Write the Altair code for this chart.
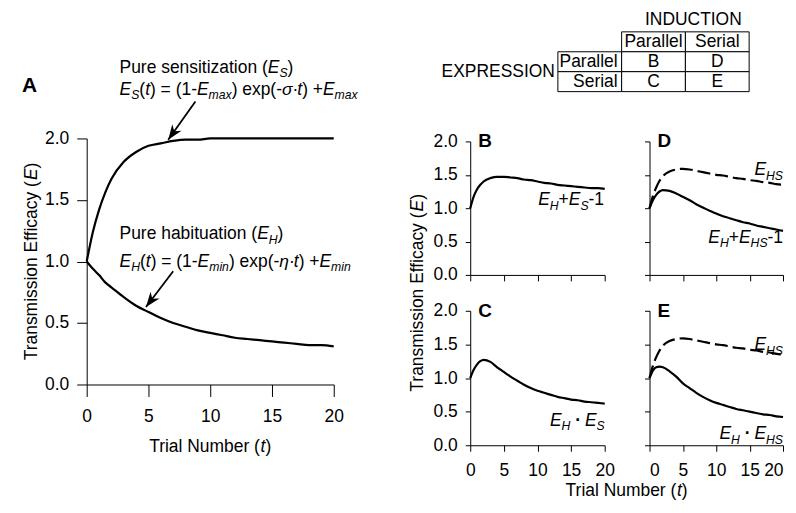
import math
import altair as alt
import pandas as pd

FONT = "Liberation Sans"
FS = 17.5
SUB = 0.7
SUB_DY = 4.5
LW = 2.2

# ---------------- data ----------------
t = [0, 0.5, 1, 1.5, 2, 3, 4, 5, 6, 7, 8, 9, 10, 11, 12, 13, 14, 15, 16, 17, 18, 19, 20]
E_S = [1.00, 1.24, 1.42, 1.56, 1.67, 1.81, 1.89, 1.94, 1.96, 1.98, 1.99, 1.99,
       2.00, 2.00, 2.00, 2.00, 2.00, 2.00, 2.00, 2.00, 2.00, 2.00, 2.00]
E_H = [1.00, 0.94, 0.89, 0.83, 0.79, 0.71, 0.64, 0.59, 0.54, 0.50, 0.47, 0.44,
       0.42, 0.40, 0.38, 0.37, 0.36, 0.35, 0.34, 0.33, 0.32, 0.32, 0.31]
B_sum = [1.00, 1.17, 1.28, 1.35, 1.40, 1.45, 1.47, 1.47, 1.46, 1.45, 1.43, 1.42,
         1.40, 1.38, 1.37, 1.35, 1.34, 1.33, 1.32, 1.31, 1.30, 1.30, 1.29]
C_prod = [1.00, 1.12, 1.20, 1.25, 1.27, 1.24, 1.16, 1.09, 1.02, 0.96, 0.90, 0.85,
          0.81, 0.78, 0.75, 0.72, 0.70, 0.68, 0.67, 0.65, 0.64, 0.63, 0.62]
E_HS = [1.00, 1.18, 1.31, 1.41, 1.48, 1.55, 1.58, 1.59, 1.58, 1.56, 1.54, 1.52,
        1.50, 1.49, 1.47, 1.45, 1.44, 1.42, 1.41, 1.39, 1.38, 1.36, 1.35]
D_sum = [1.00, 1.12, 1.20, 1.25, 1.27, 1.26, 1.22, 1.17, 1.12, 1.06, 1.01, 0.96,
         0.92, 0.88, 0.85, 0.82, 0.79, 0.77, 0.74, 0.72, 0.70, 0.68, 0.66]
E_prod = [1.00, 1.11, 1.16, 1.17, 1.16, 1.10, 1.02, 0.92, 0.85, 0.78, 0.72, 0.67,
          0.63, 0.60, 0.57, 0.54, 0.52, 0.50, 0.48, 0.46, 0.45, 0.43, 0.42]

x_ticks = [0, 5, 10, 15, 20]
y_ticks = [0.0, 0.5, 1.0, 1.5, 2.0]

table_rows = ["head", "Parallel", "Serial"]
table_cols = ["rowhead", "Parallel", "Serial"]
cell_row = ["head", "head", "Parallel", "Parallel", "Parallel", "Serial", "Serial", "Serial"]
cell_col = ["Parallel", "Serial", "rowhead", "Parallel", "Serial", "rowhead", "Parallel", "Serial"]
cell_txt = ["Parallel", "Serial", "Parallel", "B", "D", "Serial", "C", "E"]

# ---------------- helpers ----------------
W = {' ': 278, '(': 333, ')': 333, '+': 584, '-': 333, '.': 278, '=': 584,
     '·': 278, 'σ': 600, 'η': 556, 'A': 667, 'B': 667, 'C': 722, 'D': 722, 'E': 667,
     'H': 722, 'I': 278, 'N': 722, 'O': 778, 'P': 667, 'R': 722, 'S': 667, 'T': 611,
     'U': 722, 'X': 667, 'a': 556, 'b': 556, 'c': 500, 'e': 556, 'f': 278, 'h': 556,
     'i': 222, 'l': 222, 'm': 833, 'n': 556, 'o': 556, 'p': 556, 'r': 333, 's': 500,
     't': 278, 'u': 556, 'x': 500, 'y': 500, 'z': 500}


def seg_w(txt, style, size):
    fs = size * SUB if style == "s" else size
    return sum(W.get(c, 556) for c in txt) / 1000 * fs


def rich(segs, x, y, X=None, Y=None, align="left", size=FS, angle=0, weight="normal"):
    widths = [seg_w(s, st, size) for s, st in segs]
    off = {"left": 0.0, "center": -sum(widths) / 2, "right": -sum(widths)}[align]
    layers = []
    for (s, st), w in zip(segs, widths):
        fs = size * SUB if st == "s" else size
        body = s.lstrip(" ")
        lead = seg_w(s[:len(s) - len(body)], st, size)   # SVG drops leading spaces
        mk = alt.Chart(pd.DataFrame({"t": [x], "v": [y]})).mark_text(
            text=body.rstrip(" "), align="left", baseline="alphabetic", dx=round(off + lead, 2),
            dy=SUB_DY if st == "s" else 0, font=FONT, fontSize=fs,
            fontStyle="italic" if st in ("i", "s") else "normal",
            fontWeight="bold" if st == "b" else weight, angle=angle, color="black")
        if X is None:
            mk = mk.encode(x=alt.value(x), y=alt.value(y))
        else:
            mk = mk.encode(x=X, y=Y)
        layers.append(mk)
        off += w
    return layers


def ax(kind, labels, tick, pad, offset=0, flush=False):
    kw = dict(title=None, grid=False, labels=labels, tickSize=tick, labelPadding=pad,
              labelFlush=flush, labelOverlap=False, domainColor="black", tickColor="black",
              labelColor="black", labelFont=FONT, labelFontSize=FS, domainWidth=1, tickWidth=1)
    if offset:
        kw["offset"] = offset
    if kind == "x":
        return alt.Axis(values=x_ticks, **kw)
    return alt.Axis(values=y_ticks, format=".1f", **kw)


def line_df(*series):
    rows = []
    for name, vals in series:
        for ti, vi in zip(t, vals):
            rows.append({"t": ti, "v": vi, "s": name})
    return pd.DataFrame(rows)


def letter(ch, x, y, size=19):
    return rich([(ch, "n")], x, y, size=size, weight="bold")


# ---------------- panel A ----------------
XA = alt.X("t:Q", scale=alt.Scale(domain=[0, 20], range=[0, 248]), axis=ax("x", True, 12, 11, offset=110))
YA = alt.Y("v:Q", scale=alt.Scale(domain=[0, 2], range=[244, -3]), axis=ax("y", True, 10, 8))
PX_T, PX_V = 12.4, 123.5

linesA = alt.Chart(line_df(("S", E_S), ("H", E_H))).mark_line(
    color="black", strokeWidth=LW, interpolate="monotone").encode(x=XA, y=YA, detail="s:N")

arr = pd.DataFrame({"t": [8.8, 7.0], "v": [2.30, 0.92], "t2": [6.6, 4.8], "v2": [1.99, 0.63]})
rulesA = alt.Chart(arr).mark_rule(color="black", strokeWidth=1.8).encode(
    x=XA, y=YA, x2="t2:Q", y2="v2:Q")
heads = pd.DataFrame({
    "t": arr["t2"], "v": arr["v2"],
    "ang": [(math.degrees(math.atan2((b - a) * PX_T, (d - c) * PX_V)) + 360) % 360
            for a, b, c, d in zip(arr["t"], arr["t2"], arr["v"], arr["v2"])]})
ARROW = "M0,0 L-0.38,1 L0,0.7 L0.38,1 Z"
headsA = alt.Chart(heads).mark_point(shape=ARROW, filled=True, color="black", opacity=1,
                                     size=900, strokeWidth=0).encode(
    x=XA, y=YA, angle=alt.Angle("ang:Q", scale=None))

annA = []
annA += rich([("Pure sensitization (", "n"), ("E", "i"), ("S", "s"), (")", "n")], 2.66, 2.534, XA, YA)
annA += rich([("E", "i"), ("S", "s"), ("(", "n"), ("t", "i"), (") = (1-", "n"), ("E", "i"),
              ("max", "s"), (") exp(-", "n"), ("σ", "i"), ("·", "n"), ("t", "i"), (") +", "n"),
              ("E", "i"), ("max", "s")], 2.66, 2.356, XA, YA)
annA += rich([("Pure habituation (", "n"), ("E", "i"), ("H", "s"), (")", "n")], 2.66, 1.182, XA, YA)
annA += rich([("E", "i"), ("H", "s"), ("(", "n"), ("t", "i"), (") = (1-", "n"), ("E", "i"),
              ("min", "s"), (") exp(-", "n"), ("η", "i"), ("·", "n"), ("t", "i"), (") +", "n"),
              ("E", "i"), ("min", "s")], 2.66, 0.955, XA, YA)
annA += letter("A", -65, -50, size=21)
annA += rich([("Transmission Efficacy (", "n"), ("E", "i"), (")", "n")], -50, 120.5,
             align="center", angle=270)
annA += rich([("Trial Number (", "n"), ("t", "i"), (")", "n")], 124, 312, align="center")

panelA = alt.layer(linesA, rulesA, headsA, *annA).properties(width=340, height=134)


# ---------------- panels B-E ----------------
def panel(xlab, ylab, series, labels, ch, flush=False):
    X = alt.X("t:Q", scale=alt.Scale(domain=[0, 20]), axis=ax("x", xlab, 6, 10, flush=flush))
    Y = alt.Y("v:Q", scale=alt.Scale(domain=[0, 2]), axis=ax("y", ylab, 5, 8))
    layers = []
    for name, vals, dashed in series:
        mk = alt.Chart(line_df((name, vals))).mark_line(
            color="black", strokeWidth=LW, interpolate="monotone",
            **({"strokeDash": [13, 5]} if dashed else {}))
        layers.append(mk.encode(x=X, y=Y))
    for segs, lx, ly in labels:
        layers += rich(segs, lx, ly, X, Y, align="right")
    layers += letter(ch, 8, 6)
    return layers


DOT = " · "
lab_B = [([("E", "i"), ("H", "s"), ("+", "n"), ("E", "i"), ("S", "s"), ("-1", "n")], 19.9, 1.045)]
lab_C = [([("E", "i"), ("H", "s"), (DOT, "b"), ("E", "i"), ("S", "s")], 20.0, 0.29)]
lab_D = [([("E", "i"), ("HS", "s")], 20.0, 1.49),
         ([("E", "i"), ("H", "s"), ("+", "n"), ("E", "i"), ("HS", "s"), ("-1", "n")], 20.0, 0.48)]
lab_E = [([("E", "i"), ("HS", "s")], 20.0, 1.41),
         ([("E", "i"), ("H", "s"), (DOT, "b"), ("E", "i"), ("HS", "s")], 20.0, 0.09)]

lB = panel(False, True, [("B", B_sum, False)], lab_B, "B")
lD = panel(False, False, [("D", D_sum, False), ("HS", E_HS, True)], lab_D, "D")
lC = panel(True, True, [("C", C_prod, False)], lab_C, "C")
lE = panel(True, False, [("E", E_prod, False), ("HS", E_HS, True)], lab_E, "E", flush=True)
lC += rich([("Transmission Efficacy (", "n"), ("E", "i"), (")", "n")], -47, -18,
           align="center", angle=270)
lC += rich([("Trial Number (", "n"), ("t", "i"), (")", "n")], 157, 186, align="center")

panelB = alt.layer(*lB).properties(width=135, height=134)
panelD = alt.layer(*lD).properties(width=134, height=134)
panelC = alt.layer(*lC).properties(width=135, height=135)
panelE = alt.layer(*lE).properties(width=134, height=135)

# ---------------- table ----------------
TX = alt.X("col:N", scale=alt.Scale(domain=table_cols, range=[473, 665], paddingInner=0,
                                    paddingOuter=0), axis=None)
TY = alt.Y("row:N", scale=alt.Scale(domain=table_rows, range=[-280, -220], paddingInner=0,
                                    paddingOuter=0), axis=None)
tdf = pd.DataFrame({"row": cell_row, "col": cell_col, "txt": cell_txt})
tbase = alt.Chart(tdf)
t_cells = tbase.mark_rect(fill="white", stroke="black", strokeWidth=1).encode(x=TX, y=TY)
t_mid = tbase.transform_filter(alt.datum.col != "rowhead").mark_text(
    font=FONT, fontSize=FS, baseline="middle", align="center", color="black").encode(
    x=TX, y=TY, text="txt:N")
t_head = tbase.transform_filter(alt.datum.col == "rowhead").mark_text(
    font=FONT, fontSize=FS, baseline="middle", align="right", dx=28, color="black").encode(
    x=TX, y=TY, text="txt:N")
t_expr = alt.Chart(pd.DataFrame({"row": ["Parallel"], "col": ["rowhead"], "txt": ["EXPRESSION"]})).mark_text(
    font=FONT, fontSize=FS, baseline="middle", align="right", dx=-35, dy=10, color="black").encode(
    x=TX, y=TY, text="txt:N")
t_ind = alt.Chart(pd.DataFrame({"row": ["head"], "col": ["Parallel"], "txt": ["INDUCTION"]})).mark_text(
    font=FONT, fontSize=FS, baseline="alphabetic", align="center", dx=40, dy=-17, color="black").encode(
    x=TX, y=TY, text="txt:N")
table = alt.layer(t_cells, t_mid, t_head, t_expr, t_ind).properties(width=340, height=135)

chart = alt.concat(
    panelA, panelB, panelD, table, panelC, panelE,
    columns=3, spacing={"row": 36, "column": 45}, bounds="flush", align="each",
).properties(
    padding={"left": 14, "top": 2, "right": 0, "bottom": 0}
).configure(font=FONT).configure_view(stroke=None)

chart.save("out.html", embed_options={"renderer": "svg", "actions": False})
